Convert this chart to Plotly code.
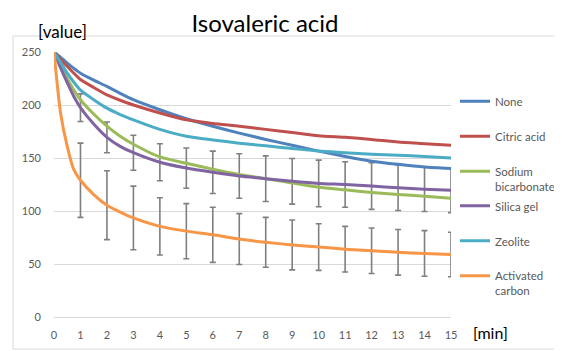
import plotly.graph_objects as go

# ---- data ----
minutes = [0, 0.25, 0.5, 0.75, 1, 1.5, 2, 2.5, 3, 4, 5, 6, 7, 8, 9, 10, 11, 12, 13, 14, 15]
none_vals = [250, 245, 239.5, 234.5, 230, 223.5, 217.5, 211, 205, 195.5, 187, 180, 173.5, 167.5, 162, 156.5, 151.5, 147, 144, 141.5, 140]
citric_vals = [250, 243, 236.5, 230, 224, 216.5, 209.5, 204.5, 200, 192.5, 186, 182.5, 180, 177, 174, 171, 169.5, 167.5, 165, 163.5, 162]
sodium_vals = [250, 237, 225, 214, 205, 191.5, 180, 170.5, 163, 151, 145, 139.5, 134.5, 130.5, 126.5, 122.5, 120, 117.5, 115.5, 114, 112]
silica_vals = [250, 235, 221, 208, 197.5, 182, 169.5, 161, 155, 146, 140.5, 136.5, 133, 130.5, 128, 126, 125, 123.5, 122, 120.5, 119.5]
zeolite_vals = [250, 240, 230, 221.5, 214, 205, 197, 191, 186, 177, 170.5, 167, 164, 161.5, 159, 156.5, 155, 153.5, 152.5, 151.5, 150]
carbon_vals = [250, 192, 161, 139, 129, 115.5, 105.5, 99, 93.5, 85.5, 81, 77.5, 73.5, 70.5, 68, 66, 64, 62.5, 61, 60, 59]

err_minutes = [1, 2, 3, 4, 5, 6, 7, 8, 9, 10, 11, 12, 13, 14, 15]
silica_err = [13, 14.5, 16.5, 17.5, 19, 20, 21, 21.5, 21.5, 22, 21.5, 22, 21.5, 21, 21]
carbon_err = [35, 32.5, 30, 27, 26, 26, 24, 23.5, 23.5, 22, 21.5, 21.5, 21.5, 21.5, 21]

series_names = ["None", "Citric acid", "Sodium<br>bicarbonate", "Silica gel", "Zeolite", "Activated<br>carbon"]
series_vals = [none_vals, citric_vals, sodium_vals, silica_vals, zeolite_vals, carbon_vals]
colors = ["#4F81BD", "#C0504D", "#9BBB59", "#8064A2", "#4BACC6", "#F79646"]
y_ticks = [0, 50, 100, 150, 200, 250]
x_ticks = list(range(0, 16))

FONT = "Lato"
OFF = 8  # default page body margin
W, H = 562 - OFF, 351 - OFF
L, R, T, B = 54 - OFF, 451 - OFF, 52 - OFF, 317 - OFF  # plot area in figure pixels


def px_x(p):  # p: window pixel
    return (p - OFF - L) / (R - L)


def px_y(p):
    return (B - (p - OFF)) / (B - T)


fig = go.Figure()

# error bars (drawn under the lines)
idx = [minutes.index(m) for m in err_minutes]
for vals, errs in [(silica_vals, silica_err), (carbon_vals, carbon_err)]:
    fig.add_trace(go.Scatter(
        x=err_minutes, y=[vals[i] for i in idx], mode="markers",
        marker=dict(size=1, opacity=0),
        error_y=dict(type="data", array=errs, symmetric=True,
                     color="#808080", thickness=1.6, width=3),
        showlegend=False, hoverinfo="skip"))

legend_centers = [101.5, 136.5, 171.5, 206, 241, 276]
for k, (name, vals, col) in enumerate(zip(series_names, series_vals, colors)):
    fig.add_trace(go.Scatter(
        x=minutes, y=vals, mode="lines", name=name,
        line=dict(color=col, width=3, shape="spline", smoothing=0.6),
        legend="legend" if k == 0 else f"legend{k+1}"))

legend_common = dict(xanchor="left", yanchor="top", valign="top",
                     bgcolor="rgba(0,0,0,0)", borderwidth=0,
                     font=dict(family=FONT, size=11.5, color="#595959"),
                     itemwidth=30, tracegroupgap=0)
legends = {}
for k, c in enumerate(legend_centers):
    key = "legend" if k == 0 else f"legend{k+1}"
    legends[key] = dict(x=px_x(455), y=px_y(c - 14.2), **legend_common)

fig.update_layout(
    width=W, height=H,
    margin=dict(l=L, r=W - R, t=T, b=H - B, autoexpand=False),
    paper_bgcolor="white", plot_bgcolor="white",
    font=dict(family=FONT, color="#595959"),
    title=dict(text="Isovaleric acid", x=(265 - OFF) / W, xanchor="center",
               y=1 - (24 - OFF) / H, yanchor="middle", yref="container",
               font=dict(family=FONT, size=24, color="#000000")),
    xaxis=dict(range=[0, 15], tickvals=x_ticks, showgrid=False, zeroline=False,
               showline=True, linecolor="#D9D9D9", linewidth=1, ticks="",
               tickfont=dict(family=FONT, size=11, color="#595959"),
               ticklabelstandoff=8),
    yaxis=dict(range=[0, 250], tickvals=y_ticks, showgrid=True, gridcolor="#D9D9D9",
               gridwidth=1, zeroline=False, showline=False, ticks="",
               tickfont=dict(family=FONT, size=11, color="#595959"),
               ticklabelstandoff=12),
    shapes=[dict(type="rect", xref="paper", yref="paper",
                 x0=px_x(13), x1=px_x(620), y0=px_y(349), y1=px_y(36),
                 line=dict(color="#D9D9D9", width=1), layer="below")],
    annotations=[
        dict(text="[value]", xref="paper", yref="paper", x=0, y=px_y(31),
             xanchor="left", yanchor="middle", showarrow=False, xshift=36 - 54,
             font=dict(family=FONT, size=17, color="#000000")),
        dict(text="[min]", xref="paper", yref="paper", x=px_x(471), y=px_y(332),
             xanchor="left", yanchor="middle", showarrow=False,
             font=dict(family=FONT, size=16, color="#000000")),
    ],
    **legends,
)

fig.write_html("out.html")
